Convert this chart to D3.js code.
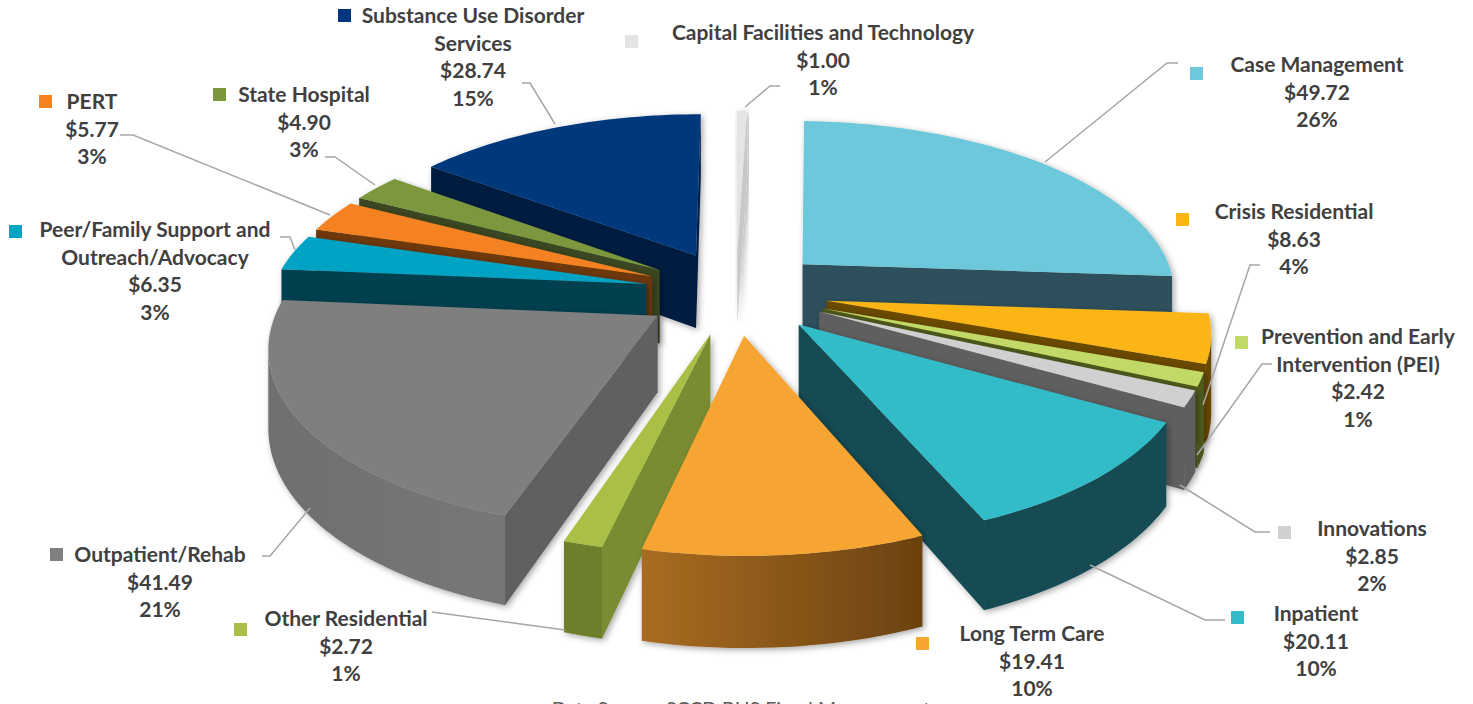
<!DOCTYPE html>
<html>
<head>
<meta charset="utf-8">
<script src="https://cdn.jsdelivr.net/npm/d3@7"></script>
<style>
  html, body { margin: 0; padding: 0; background: #fff; overflow: hidden; }
  text { font-family: Lato, "Open Sans", sans-serif; font-weight: 700; fill: #404040; }
</style>
</head>
<body>
<script>
// values, clockwise from 12 o'clock
var names = ['Case Management', 'Crisis Residential', 'Prevention and Early Intervention (PEI)', 'Innovations',
  'Inpatient', 'Long Term Care', 'Other Residential', 'Outpatient/Rehab', 'Peer/Family Support and Outreach/Advocacy',
  'PERT', 'State Hospital', 'Substance Use Disorder Services', 'Capital Facilities and Technology'];
var amounts = [49.72, 8.63, 2.42, 2.85, 20.11, 19.41, 2.72, 41.49, 6.35, 5.77, 4.90, 28.74, 1.00];
var amountLabels = ['$49.72', '$8.63', '$2.42', '$2.85', '$20.11', '$19.41', '$2.72', '$41.49', '$6.35', '$5.77', '$4.90', '$28.74', '$1.00'];
var percentLabels = ['26%', '4%', '1%', '2%', '10%', '10%', '1%', '21%', '3%', '3%', '3%', '15%', '1%'];

// top face, side walls, and outer wall gradient (left, right)
var topColors = ['#6cc8da', '#fbb615', '#c1d966', '#d0d0d0', '#33bcc8', '#f7a531', '#a9bf45', '#7f7f7f', '#05a3c4', '#f58220', '#7b973d', '#00377c', '#e4e4e4'];
var wallColors = ['#2f505c', '#6b4a00', '#4e5a1c', '#5f5f5f', '#134b52', '#1a1a1a', '#7a8c30', '#606060', '#003f50', '#6e3708', '#3a4620', '#001c40', '#c8c8c8'];
var outerLeft = ['#2f505c', '#6b4a00', '#4e5a1c', '#5f5f5f', '#134b52', '#a96c22', '#6d7f2c', '#6f6f6f', '#003f50', '#6e3708', '#3a4620', '#001c40', '#c8c8c8'];
var outerRight = ['#2f505c', '#6b4a00', '#4e5a1c', '#5f5f5f', '#134b52', '#6a4210', '#6d7f2c', '#777777', '#003f50', '#6e3708', '#3a4620', '#001c40', '#c8c8c8'];

// label layout: centre x, first baseline y, text lines, key square x/y
var labelX = [1317, 1294, 1358, 1372, 1316, 1032, 346, 160, 155, 92, 304, 473, 823];
var labelY = [72, 219, 344, 536, 621, 641, 626, 562, 237, 109, 102, 23, 40];
var labelLines = [['Case Management'], ['Crisis Residential'], ['Prevention and Early', 'Intervention (PEI)'], ['Innovations'],
  ['Inpatient'], ['Long Term Care'], ['Other Residential'], ['Outpatient/Rehab'], ['Peer/Family Support and', 'Outreach/Advocacy'],
  ['PERT'], ['State Hospital'], ['Substance Use Disorder', 'Services'], ['Capital Facilities and Technology']];
var keyX = [1190, 1176, 1235, 1278, 1231, 916, 234, 50, 9, 39, 213, 338, 625];
var keyY = [67, 213, 336, 526, 611, 637, 623, 548, 225, 95, 88, 9, 35];
var leaders = [
  [[1178, 63], [1167, 63], [1045, 162]],
  [[1260, 265], [1250, 265], [1203, 405]],
  [[1272, 364], [1262, 364], [1197, 455]],
  [[1270, 532], [1255, 532], [1180, 485]],
  [[1225, 620], [1205, 620], [1090, 565]],
  [],
  [[432, 612], [565, 630]],
  [[262, 556], [270, 556], [310, 508]],
  [[280, 237], [290, 237], [295, 250]],
  [[120, 135], [133, 135], [330, 215]],
  [[325, 157], [335, 157], [375, 185]],
  [[522, 83], [530, 83], [555, 124]],
  [[780, 86], [770, 86], [745, 107]]
];

var width = 1473, height = 704;
var cx = 736, cy = 292;        // screen position of the pie centre
var S = 375, k = 0.46, p = 0.15;  // scale, tilt, perspective
var wallH = 0.2, explode = 0.245, rot = 1.8 * Math.PI / 180;

// ground plane to screen. Y runs towards the viewer, Z up
function project(X, Y, Z) {
  var w = 1 - p * Y;
  return [cx + S * X / w, cy + S * (k * Y - Z) / w];
}

var svg = d3.select('body').append('svg').attr('width', width).attr('height', height);
var defs = svg.append('defs');
var shadow = defs.append('filter').attr('id', 'soft')
  .attr('x', '-10%').attr('y', '-10%').attr('width', '120%').attr('height', '120%');
shadow.append('feDropShadow').attr('dx', 2).attr('dy', 2).attr('stdDeviation', 3)
  .attr('flood-color', '#000').attr('flood-opacity', 0.35);

var pie = d3.pie().sort(null).value(function(d) { return d; });
var arcs = pie(amounts).map(function(d, i) { d.i = i; return d; });
var line = d3.line();

function drawSlice(d) {
  var i = d.i;
  var mid = (d.startAngle + d.endAngle) / 2 + rot;
  var ox = explode * Math.sin(mid), oy = -explode * Math.cos(mid);
  var steps = Math.max(2, Math.ceil((d.endAngle - d.startAngle) * 40));
  var rim = d3.range(steps + 1).map(function(j) {
    var a = d.startAngle + rot + (d.endAngle - d.startAngle) * j / steps;
    return [ox + Math.sin(a), oy - Math.cos(a)];
  });
  var up = function(q) { return project(q[0], q[1], 0); };
  var down = function(q) { return project(q[0], q[1], -wallH); };
  var apex = [ox, oy];
  var g = svg.append('g').attr('filter', 'url(#soft)');

  // radial walls, only those turned to the viewer
  [[apex, rim[0]], [rim[steps], apex]].forEach(function(e) {
    var quad = [up(e[0]), up(e[1]), down(e[1]), down(e[0])];
    if (d3.polygonArea(quad) > 0) {
      g.append('path').attr('d', line(quad) + 'Z').attr('fill', wallColors[i]);
    }
  });

  // outer wall, the part turned to the viewer
  var front = [];
  for (var j = 0; j < steps; j++) {
    var seg = [up(rim[j]), up(rim[j + 1]), down(rim[j + 1]), down(rim[j])];
    if (d3.polygonArea(seg) > 0) front.push(j);
  }
  if (front.length) {
    var first = front[0], last = front[front.length - 1] + 1;
    var run = rim.slice(first, last + 1);
    var pts = run.map(up).concat(run.slice().reverse().map(down));
    var xs = d3.extent(pts, function(q) { return q[0]; });
    var grad = defs.append('linearGradient').attr('id', 'outer' + i)
      .attr('gradientUnits', 'userSpaceOnUse')
      .attr('x1', xs[0]).attr('x2', xs[1]).attr('y1', 0).attr('y2', 0);
    grad.append('stop').attr('offset', 0).attr('stop-color', outerLeft[i]);
    grad.append('stop').attr('offset', 1).attr('stop-color', outerRight[i]);
    g.append('path').attr('d', line(pts) + 'Z').attr('fill', 'url(#outer' + i + ')');
  }

  // top face
  g.append('path').attr('d', line([apex].concat(rim).map(up)) + 'Z').attr('fill', topColors[i]);
}

// painter's order, far slices first
arcs.slice().sort(function(a, b) {
  return Math.cos((b.startAngle + b.endAngle) / 2 + rot) - Math.cos((a.startAngle + a.endAngle) / 2 + rot);
}).forEach(drawSlice);

// leader lines
svg.append('g').selectAll('path').data(leaders.filter(function(l) { return l.length; })).enter().append('path')
  .attr('d', function(l) { return line(l); })
  .attr('fill', 'none').attr('stroke', '#a6a6a6').attr('stroke-width', 1.5);

// labels with key squares
var fontSize = 21, lineGap = 27.5;
names.forEach(function(name, i) {
  svg.append('rect').attr('x', keyX[i]).attr('y', keyY[i]).attr('width', 13).attr('height', 13).attr('fill', topColors[i]);
  var lines = labelLines[i].concat([amountLabels[i], percentLabels[i]]);
  var t = svg.append('text').attr('text-anchor', 'middle').attr('font-size', fontSize);
  lines.forEach(function(s, n) {
    t.append('tspan').attr('x', labelX[i]).attr('y', labelY[i] + n * lineGap).text(s);
  });
});

// source note, cut by the bottom edge as in the original
svg.append('text').attr('x', 741).attr('y', 716).attr('text-anchor', 'middle')
  .attr('font-size', 19.5).style('font-weight', 400).style('fill', '#595959')
  .text('Data Source: SCCD BHS Fiscal Management');
</script>
</body>
</html>
